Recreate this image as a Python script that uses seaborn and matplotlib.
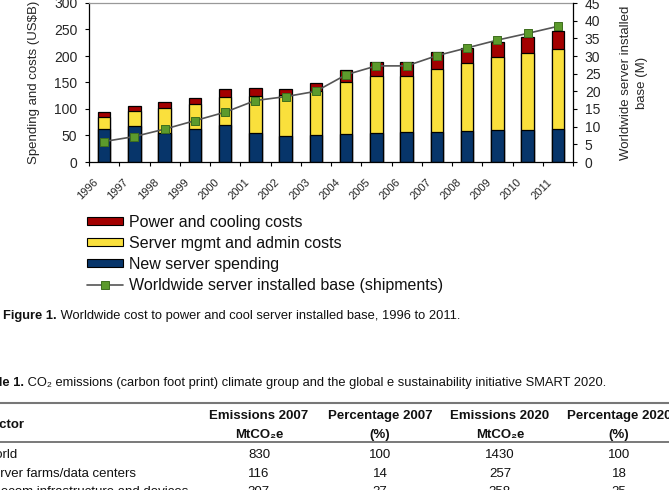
import numpy as np
import pandas as pd
import matplotlib
matplotlib.use("Agg")
import matplotlib.pyplot as plt
import matplotlib.transforms as mtransforms
from matplotlib.patches import Patch
from matplotlib.lines import Line2D
import seaborn as sns

# ---------------- data ----------------
years = [str(y) for y in range(1996, 2012)]
new_server = [63, 67, 55, 62, 69, 55, 49, 50, 52.5, 55, 56, 57, 59, 60, 61, 63]
mgmt_admin = [21, 29, 47, 48, 53.5, 69, 78, 84, 98, 107, 107, 118.5, 128.5, 137.5, 144, 150]
power_cooling = [10.5, 10.5, 11, 10.5, 15.5, 16, 11, 15, 23.5, 26, 25, 31.5, 28.5, 28, 31, 34.5]
installed_base = [5.8, 7.2, 9.3, 11.7, 14.1, 17.4, 18.5, 20.0, 24.7, 27.2, 27.2, 30.1,
                  32.3, 34.5, 36.4, 38.4]

legend_labels = ["Power and cooling costs", "Server mgmt and admin costs",
                 "New server spending", "Worldwide server installed base (shipments)"]
left_ylabel = r"Spending and costs (US\$B)"
right_ylabel = "Worldwide server installed\nbase (M)"

caption_bold = "Figure 1."
caption_text = " Worldwide cost to power and cool server installed base, 1996 to 2011."
table_caption_bold = "Table 1."
table_caption_text = (" CO\u2082 emissions (carbon foot print) climate group and the global "
                      "e sustainability initiative SMART 2020.")
table_header_1 = ["Emissions 2007", "Percentage 2007", "Emissions 2020", "Percentage 2020"]
table_header_2 = ["MtCO\u2082e", "(%)", "MtCO\u2082e", "(%)"]
sector_header = "Sector"
table_sectors = ["World", "Server farms/data centers", "Telecom infrastructure and devices"]
emissions_2007 = [830, 116, 307]
percentage_2007 = [100, 14, 37]
emissions_2020 = [1430, 257, 358]
percentage_2020 = [100, 18, 25]

# ---------------- style ----------------
RED = "#A30000"
YELLOW = "#FAE03C"
BLUE = "#07356A"
GREEN = "#5C9A2C"
GREEN_EDGE = "#3E6E1E"
LINE = "#555555"

sns.set_style("white")
plt.rcParams["font.family"] = ["Liberation Sans", "DejaVu Sans"]
plt.rcParams["text.color"] = "#111111"

W, H = 669, 490
fig = plt.figure(figsize=(W / 100, H / 100), dpi=100)
fig.patch.set_facecolor("white")


def fx(x):
    return x / W


def fy(y):
    return 1 - y / H


ax = fig.add_axes([fx(89), fy(162), (573 - 89) / W, (162 - 3) / H])

df = pd.DataFrame({
    "year": years,
    "new": new_server,
    "mgmt_top": np.array(new_server) + np.array(mgmt_admin),
    "total": np.array(new_server) + np.array(mgmt_admin) + np.array(power_cooling),
})

bar_kw = dict(data=df, x="year", width=0.42, edgecolor="black", linewidth=0.9,
              saturation=1, ax=ax, errorbar=None)
sns.barplot(y="total", color=RED, **bar_kw)
sns.barplot(y="mgmt_top", color=YELLOW, **bar_kw)
sns.barplot(y="new", color=BLUE, **bar_kw)

ax.set_ylim(0, 300)
ax.set_yticks(range(0, 301, 50))
ax.set_xlabel("")
ax.set_ylabel(left_ylabel, fontsize=9.5)
ax.yaxis.set_label_coords((34 - 89) / 484, 0.5)
ax.yaxis.label.set(va="center", ha="center")

ax2 = ax.twinx()
pos = np.arange(len(years))
sns.lineplot(x=pos, y=installed_base, ax=ax2, color=LINE, linewidth=1.2, zorder=4)
sns.scatterplot(x=pos, y=installed_base, ax=ax2, marker="s", s=36, color=GREEN,
                edgecolor=GREEN_EDGE, linewidth=0.7, zorder=5)
ax2.set_ylim(0, 45)
ax2.set_yticks(range(0, 46, 5))
ax2.set_ylabel(right_ylabel, fontsize=9.5, linespacing=1.45, multialignment="center")
ax2.yaxis.set_label_coords((634 - 89) / 484, 0.5)
ax2.yaxis.label.set(va="center", ha="center")

ax.set_xlim(-0.5, len(years) - 0.5)
ax.set_xticks(pos)
ax.set_xticklabels(years, rotation=45, ha="right", fontsize=8)
ax.set_xticks(np.arange(-0.5, len(years), 1), minor=True)
ax.tick_params(axis="x", which="major", length=0, pad=11)
ax.tick_params(axis="x", which="minor", length=3, width=0.8, color="black", bottom=True)
ax.tick_params(axis="y", length=3, width=0.8, color="black", pad=5.5, labelsize=10,
               left=True)
ax2.tick_params(axis="y", length=3, width=0.8, color="black", pad=5.5, labelsize=10,
                right=True)
off = mtransforms.ScaledTranslation(-4 / 100, 0, fig.dpi_scale_trans)
for lab in ax.get_xticklabels():
    lab.set_transform(lab.get_transform() + off)

for s in ["left", "bottom"]:
    ax.spines[s].set_color("black")
    ax.spines[s].set_linewidth(0.9)
ax.spines["top"].set_color("#999999")
ax.spines["top"].set_linewidth(0.9)
ax.spines["right"].set_visible(False)
for s in ["left", "top", "bottom"]:
    ax2.spines[s].set_visible(False)
ax2.spines["right"].set_color("black")
ax2.spines["right"].set_linewidth(0.9)

# ---------------- legend ----------------
handles = [
    Patch(facecolor=RED, edgecolor="black", linewidth=0.8),
    Patch(facecolor=YELLOW, edgecolor="black", linewidth=0.8),
    Patch(facecolor=BLUE, edgecolor="black", linewidth=0.8),
    Line2D([], [], color=LINE, linewidth=1.2, marker="s", markersize=6,
           markerfacecolor=GREEN, markeredgecolor=GREEN_EDGE, markeredgewidth=0.7),
]
fig.legend(handles, legend_labels, loc="upper left", bbox_to_anchor=(fx(87), fy(214.5)),
           frameon=False, borderpad=0, borderaxespad=0, fontsize=11.5,
           handlelength=2.25, handleheight=0.44, handletextpad=0.35, labelspacing=0.38)

# ---------------- captions and table ----------------
renderer = fig.canvas.get_renderer()


def rich(x, y, bold, regular, size):
    t = fig.text(fx(x), fy(y), bold, fontsize=size, fontweight="bold", va="baseline",
                 ha="left")
    bb = t.get_window_extent(renderer)
    fig.text(bb.x1 / W, fy(y), regular, fontsize=size, va="baseline", ha="left")


rich(3.3, 319.3, caption_bold, caption_text, 9.3)
rich(-23, 386, table_caption_bold, table_caption_text, 9.3)

fig.add_artist(Line2D([0, 1], [fy(403.3), fy(403.3)], transform=fig.transFigure,
                      color="#777777", linewidth=1.5))
fig.add_artist(Line2D([0, 1], [fy(441.7), fy(441.7)], transform=fig.transFigure,
                      color="#555555", linewidth=1.1))

TS = 9.5
col_x = [259, 380, 500, 619]
fig.text(fx(-16), fy(428.3), sector_header, fontsize=TS, fontweight="bold", va="baseline")
for cx, h1, h2 in zip(col_x, table_header_1, table_header_2):
    fig.text(fx(cx), fy(419.3), h1, fontsize=TS, fontweight="bold", va="baseline",
             ha="center")
    fig.text(fx(cx), fy(438.3), h2, fontsize=TS, fontweight="bold", va="baseline",
             ha="center")

row_y = [458.3, 476.7, 495]
for i, ry in enumerate(row_y):
    fig.text(fx(-16), fy(ry), table_sectors[i], fontsize=TS, va="baseline")
    vals = [emissions_2007[i], percentage_2007[i], emissions_2020[i], percentage_2020[i]]
    for cx, v in zip(col_x, vals):
        fig.text(fx(cx), fy(ry), str(v), fontsize=TS, va="baseline", ha="center")

fig.savefig("out.png", dpi=100, facecolor="white")
